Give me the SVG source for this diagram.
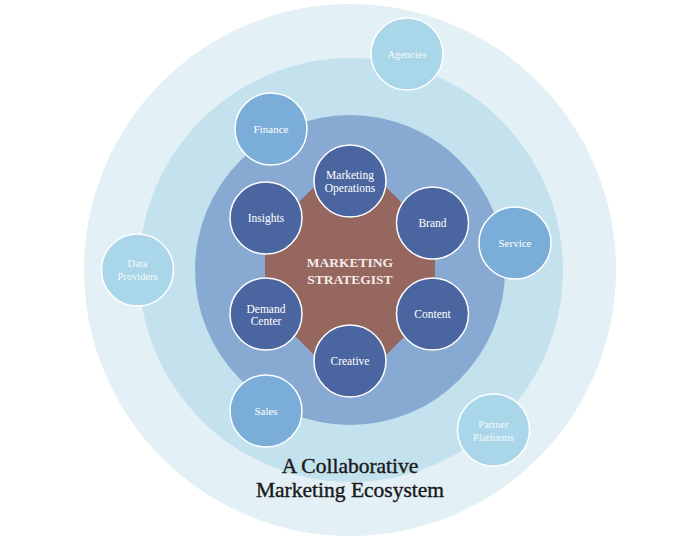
<svg xmlns="http://www.w3.org/2000/svg" width="700" height="541" viewBox="0 0 700 541">
<style>
text{font-family:"Liberation Serif","Times New Roman",serif;text-anchor:middle}
.ring1{fill:#e3f1f6}
.ring2{fill:#c3e2ee}
.ring3{fill:#88a9d2}
.core{fill:#96675f}
.inner{fill:#4b65a0;stroke:#ffffff;stroke-width:1.5}
.mid{fill:#7aadd8;stroke:#ffffff;stroke-width:1.5}
.light{fill:#a9d6e8;stroke:#ffffff;stroke-width:1.5}
.lbl{fill:#ffffff;font-size:11.5px}
.lbl2{fill:#ffffff;font-size:11px}
.lbl3{fill:#f4fafd;font-size:10.5px}
.core-t{fill:#f6ece9;font-size:13.5px;font-weight:bold}
.title{fill:#1a1a1a;stroke:#1a1a1a;stroke-width:0.4;font-size:21.5px}
</style>
<g id="background">
<circle class="ring1" cx="350" cy="270" r="266"/>
<circle class="ring2" cx="351" cy="270" r="212"/>
<circle class="ring3" cx="350" cy="270" r="155"/>
</g>
<g id="connectors"/>
<g id="marketing-strategist">
<polygon class="core" points="315,186 385,186 435,236 435,306 385,356 315,356 265,306 265,236"/>
<text class="core-t" x="350" y="267">MARKETING</text>
<text class="core-t" x="350" y="284">STRATEGIST</text>
</g>
<g id="marketing-operations">
<circle class="inner" cx="350" cy="181" r="36"/>
<text class="lbl" x="350" y="179">Marketing</text>
<text class="lbl" x="350" y="192">Operations</text>
</g>
<g id="brand">
<circle class="inner" cx="432.5" cy="223" r="36"/>
<text class="lbl" x="432.5" y="227">Brand</text>
</g>
<g id="content">
<circle class="inner" cx="432.5" cy="314" r="36"/>
<text class="lbl" x="432.5" y="318">Content</text>
</g>
<g id="creative">
<circle class="inner" cx="350" cy="361" r="36"/>
<text class="lbl" x="350" y="365">Creative</text>
</g>
<g id="demand-center">
<circle class="inner" cx="266" cy="314" r="36"/>
<text class="lbl" x="266" y="313">Demand</text>
<text class="lbl" x="266" y="325">Center</text>
</g>
<g id="insights">
<circle class="inner" cx="266" cy="218" r="36"/>
<text class="lbl" x="266" y="222">Insights</text>
</g>
<g id="finance">
<circle class="mid" cx="271" cy="129" r="36"/>
<text class="lbl2" x="271" y="133">Finance</text>
</g>
<g id="service">
<circle class="mid" cx="515" cy="243" r="36"/>
<text class="lbl2" x="515" y="247">Service</text>
</g>
<g id="sales">
<circle class="mid" cx="266" cy="411" r="36"/>
<text class="lbl2" x="266" y="415">Sales</text>
</g>
<g id="agencies">
<circle class="light" cx="407" cy="54" r="36"/>
<text class="lbl3" x="407" y="58">Agencies</text>
</g>
<g id="data-providers">
<circle class="light" cx="137.5" cy="270" r="36"/>
<text class="lbl3" x="137.5" y="267">Data</text>
<text class="lbl3" x="137.5" y="280">Providers</text>
</g>
<g id="partner-platforms">
<circle class="light" cx="493.5" cy="430" r="36"/>
<text class="lbl3" x="493.5" y="428">Partner</text>
<text class="lbl3" x="493.5" y="441">Platforms</text>
</g>
<g id="title">
<text class="title" x="350" y="473">A Collaborative</text>
<text class="title" x="350" y="497">Marketing Ecosystem</text>
</g>
</svg>
